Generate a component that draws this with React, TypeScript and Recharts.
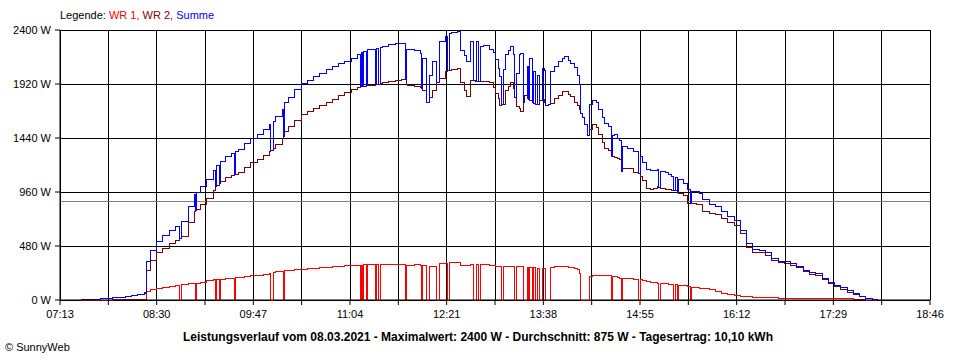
import { LineChart, Line, XAxis, YAxis, CartesianGrid, ReferenceLine } from 'recharts';

// minutes since midnight
const times = [
  450, 455, 460, 465, 470, 475, 480, 485, 490, 495,
  500, 502, 505, 510, 515, 520, 525, 528, 530, 535,
  540, 541, 542, 545, 550, 555, 557, 558, 560, 561,
  565, 570, 572, 573, 575, 580, 585, 590, 595, 600,
  601, 603, 605, 610, 611, 612, 615, 620, 625, 630,
  635, 640, 645, 650, 655, 660, 665, 670, 672, 673,
  674, 675, 677, 678, 680, 684, 685, 687, 688, 690,
  695, 700, 705, 708, 709, 710, 715, 720, 721, 722,
  725, 727, 730, 733, 735, 740, 742, 743, 745, 750,
  752, 755, 757, 760, 762, 764, 765, 766, 768, 770,
  775, 778, 780, 782, 783, 785, 786, 788, 790, 792,
  794, 795, 797, 799, 800, 802, 803, 805, 806, 807,
  809, 810, 812, 813, 815, 817, 819, 820, 822, 824,
  827, 830, 833, 835, 838, 840, 843, 845, 847, 848,
  849, 851, 853, 855, 857, 860, 862, 865, 867, 870,
  872, 873, 875, 877, 879, 880, 881, 885, 890, 894,
  895, 897, 900, 903, 906, 909, 910, 911, 915, 918,
  920, 922, 923, 925, 926, 930, 933, 935, 936, 940,
  942, 945, 950, 955, 960, 965, 970, 975, 980, 985,
  990, 995, 1000, 1005, 1010, 1015, 1020, 1025, 1030, 1035,
  1040, 1045, 1050, 1055, 1060, 1065, 1070, 1075, 1080, 1084,
];

const wr1 = [
  0, 0, 0, 0, 0, 2, 2, 3, 3, 3,
  5, 80, 90, 100, 110, 118, 125, 0, 135, 145,
  150, 0, 150, 160, 170, 178, 0, 182, 0, 185,
  190, 195, 0, 198, 200, 205, 215, 222, 230, 240,
  0, 245, 250, 255, 0, 258, 262, 268, 272, 276,
  280, 285, 290, 295, 300, 303, 305, 308, 0, 310,
  0, 312, 0, 312, 313, 0, 315, 0, 315, 316,
  318, 320, 320, 0, 310, 310, 312, 310, 0, 305,
  0, 296, 296, 0, 326, 326, 0, 330, 330, 331,
  311, 311, 311, 320, 0, 0, 320, 0, 315, 312,
  311, 305, 300, 296, 296, 0, 296, 296, 296, 300,
  300, 0, 300, 300, 300, 0, 0, 290, 0, 290,
  0, 285, 0, 283, 0, 281, 281, 0, 0, 290,
  296, 296, 296, 296, 290, 285, 281, 270, 237, 0,
  0, 0, 0, 207, 215, 222, 222, 222, 222, 222,
  0, 210, 205, 200, 195, 0, 193, 190, 185, 0,
  180, 175, 163, 160, 155, 150, 0, 148, 145, 140,
  140, 0, 138, 0, 133, 130, 124, 0, 115, 108,
  104, 100, 89, 75, 59, 50, 44, 30, 28, 26,
  24, 24, 20, 15, 15, 15, 15, 15, 15, 12,
  10, 9, 9, 9, 9, 5, 3, 0, 0, 0,
];

const wr2 = [
  5, 5, 8, 10, 15, 18, 22, 30, 40, 50,
  62, 260, 350, 420, 460, 500, 530, 545, 565, 690,
  790, 800, 805, 850, 900, 970, 1010, 1015, 1040, 1050,
  1090, 1110, 1115, 1120, 1130, 1180, 1225, 1250, 1285, 1320,
  1330, 1345, 1380, 1440, 1450, 1500, 1540, 1600, 1650, 1680,
  1705, 1725, 1755, 1785, 1820, 1845, 1870, 1890, 1895, 1895,
  1900, 1900, 1905, 1905, 1910, 1915, 1915, 1920, 1925, 1930,
  1945, 1955, 1960, 1960, 1920, 1911, 1900, 1890, 1880, 1860,
  1760, 1800, 1860, 1930, 1970, 2030, 2044, 2044, 2050, 2060,
  1930, 1860, 1810, 1950, 1955, 1945, 1945, 1945, 1945, 1945,
  1930, 1890, 1840, 1790, 1730, 1735, 1740, 1860, 1900, 1930,
  1880, 1800, 1720, 1700, 1680, 1760, 1820, 1790, 1780, 1770,
  1760, 1750, 1735, 1740, 1770, 1780, 1760, 1733, 1740, 1748,
  1790, 1822, 1850, 1852, 1830, 1810, 1760, 1730, 1690, 1660,
  1620, 1560, 1460, 1520, 1560, 1530, 1470, 1400, 1345, 1330,
  1280, 1275, 1265, 1260, 1250, 1141, 1170, 1170, 1135, 1126,
  1100, 1060, 995, 985, 990, 1007, 1000, 995, 980, 978,
  975, 975, 970, 960, 948, 930, 860, 860, 855, 850,
  845, 790, 770, 760, 726, 690, 660, 590, 470, 425,
  418, 400, 355, 330, 326, 305, 285, 250, 230, 220,
  180, 145, 120, 90, 70, 50, 30, 12, 3, 0,
];

const summe = [
  5, 5, 8, 10, 15, 20, 24, 33, 43, 53,
  67, 340, 440, 520, 570, 615, 655, 545, 700, 835,
  940, 800, 955, 1010, 1070, 1148, 1010, 1197, 1040, 1235,
  1280, 1305, 1115, 1318, 1335, 1390, 1440, 1475, 1515, 1560,
  1330, 1590, 1630, 1695, 1450, 1760, 1800, 1870, 1925, 1955,
  1985, 2010, 2045, 2080, 2100, 2120, 2150, 2185, 1895, 2200,
  1900, 2210, 1905, 2225, 2230, 1915, 2240, 1920, 2245, 2255,
  2270, 2280, 2284, 1960, 2230, 2225, 2215, 2193, 1880, 2150,
  1760, 2000, 2118, 1930, 2300, 2340, 2044, 2370, 2375, 2385,
  2222, 2170, 2120, 2300, 1955, 1945, 2300, 1945, 2250, 2260,
  2230, 2200, 2140, 2060, 1990, 1735, 2050, 2180, 2220, 2250,
  2180, 1800, 2010, 2180, 2190, 1760, 1820, 2080, 1780, 2150,
  1760, 2030, 1735, 2000, 1770, 2060, 2040, 1733, 1740, 2030,
  2080, 2118, 2150, 2163, 2125, 2105, 2065, 2000, 1920, 1660,
  1620, 1560, 1460, 1740, 1775, 1760, 1690, 1620, 1570, 1545,
  1280, 1460, 1467, 1440, 1422, 1141, 1363, 1345, 1320, 1126,
  1280, 1220, 1160, 1150, 1150, 1164, 1000, 1141, 1130, 1120,
  1096, 975, 1090, 960, 1067, 1037, 978, 860, 965, 963,
  950, 889, 850, 830, 785, 741, 705, 620, 498, 450,
  440, 420, 370, 345, 341, 325, 300, 265, 245, 232,
  193, 155, 133, 108, 85, 59, 35, 15, 5, 0,
];

// axis ticks: every 38.5 min from 07:13, labels on every second one
const xTicks = [433, 471.5, 510, 548.5, 587, 625.5, 664, 702.5, 741, 779.5, 818, 856.5, 895, 933.5, 972, 1010.5, 1049, 1087.5, 1126];
const xLabels = ['07:13', '', '08:30', '', '09:47', '', '11:04', '', '12:21', '', '13:38', '', '14:55', '', '16:12', '', '17:29', '', '18:46'];
const yTicks = [0, 480, 960, 1440, 1920, 2400];
const average = 875;

const data = times.map((t, i) => ({ t, wr1: wr1[i], wr2: wr2[i], summe: summe[i] }));

const font = '"Liberation Sans", Arial, sans-serif';

export default function App() {
  return (
    <div style={{ position: 'absolute', left: 0, top: 0, width: 960, height: 360, background: '#fff', fontFamily: font, fontSize: 11 }}>
      <div style={{ position: 'absolute', left: 60, top: 9, whiteSpace: 'pre' }}>
        Legende: <span style={{ color: '#ff0000' }}>WR 1,</span> <span style={{ color: '#800000' }}>WR 2,</span>{' '}
        <span style={{ color: '#0000ff' }}>Summe</span>
      </div>
      <LineChart width={960} height={360} data={data} margin={{ top: 30, right: 30, left: 0, bottom: 0 }}>
        <CartesianGrid stroke="#000" strokeWidth={1} shapeRendering="crispEdges" />
        <XAxis
          dataKey="t"
          type="number"
          domain={[433, 1126]}
          ticks={xTicks}
          interval={0}
          height={60}
          tickFormatter={(v, i) => xLabels[i] ?? ''}
          tick={{ fill: '#000', fontSize: 11, fontFamily: font }}
          tickSize={5}
          tickMargin={5}
          stroke="#000"
          axisLine={{ stroke: '#000' }}
          tickLine={{ stroke: '#000' }}
        />
        <YAxis
          type="number"
          domain={[0, 2400]}
          ticks={yTicks}
          interval={0}
          width={60}
          tickFormatter={(v) => `${v} W`}
          tick={{ fill: '#000', fontSize: 11, fontFamily: font }}
          tickSize={5}
          tickMargin={4}
          axisLine={{ stroke: '#000' }}
          tickLine={{ stroke: '#000' }}
        />
        <ReferenceLine y={average} stroke="#808080" strokeWidth={1} shapeRendering="crispEdges" />
        <Line type="stepAfter" dataKey="wr1" stroke="#ff0000" strokeWidth={1} dot={false} isAnimationActive={false} shapeRendering="crispEdges" />
        <Line type="stepAfter" dataKey="wr2" stroke="#800000" strokeWidth={1} dot={false} isAnimationActive={false} shapeRendering="crispEdges" />
        <Line type="stepAfter" dataKey="summe" stroke="#0000ff" strokeWidth={1} dot={false} isAnimationActive={false} shapeRendering="crispEdges" />
      </LineChart>
      <div style={{ position: 'absolute', left: 0, width: 956, top: 330, textAlign: 'center', fontWeight: 'bold', fontSize: 12 }}>
        Leistungsverlauf vom 08.03.2021 - Maximalwert: 2400 W - Durchschnitt: 875 W - Tagesertrag: 10,10 kWh
      </div>
      <div style={{ position: 'absolute', left: 5, top: 341, fontSize: 11 }}>© SunnyWeb</div>
    </div>
  );
}
